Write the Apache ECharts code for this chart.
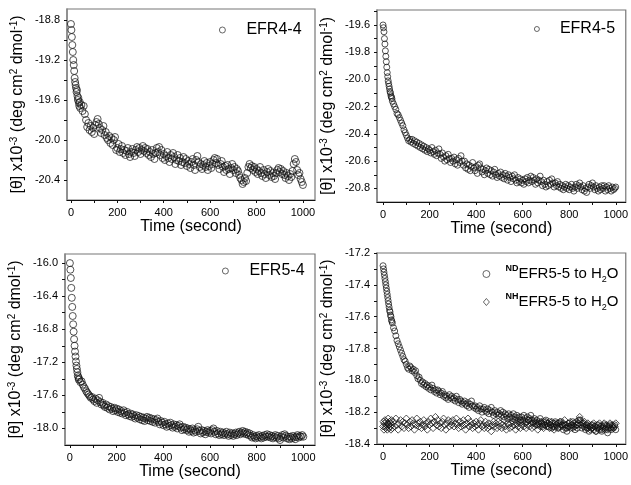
<!DOCTYPE html>
<html><head><meta charset="utf-8">
<script src="https://cdn.jsdelivr.net/npm/echarts@6/dist/echarts.min.js"></script>
<style>html,body{margin:0;padding:0;background:#fff}#c{width:631px;height:485px}</style>
</head><body><div id="c"></div>
<script>
// ---------------- DATA ----------------
const times = [
0,2,4,6,8,10,12,14,16,18,20,22,24,26,28,30,32,34,36,38,40,
45,50,55,60,65,70,75,80,85,90,
95,100,105,110,115,120,125,130,135,140,
145,150,155,160,165,170,175,180,185,190,
195,200,205,210,215,220,225,230,235,240,
245,250,255,260,265,270,275,280,285,290,
295,300,305,310,315,320,325,330,335,340,
345,350,355,360,365,370,375,380,385,390,
395,400,405,410,415,420,425,430,435,440,
445,450,455,460,465,470,475,480,485,490,
495,500,505,510,515,520,525,530,535,540,
545,550,555,560,565,570,575,580,585,590,
595,600,605,610,615,620,625,630,635,640,
645,650,655,660,665,670,675,680,685,690,
695,700,705,710,715,720,725,730,735,740,
745,750,755,760,765,770,775,780,785,790,
795,800,805,810,815,820,825,830,835,840,
845,850,855,860,865,870,875,880,885,890,
895,900,905,910,915,920,925,930,935,940,
945,950,955,960,965,970,975,980,985,990,
995,1000];

const efr44 = [
-18.84,-18.90,-18.97,-19.05,-19.12,-19.20,-19.25,-19.31,-19.38,-19.42,-19.45,-19.48,-19.52,-19.50,-19.56,-19.60,-19.58,-19.63,-19.66,-19.62,-19.68,
-19.65,-19.71,-19.66,-19.74,-19.80,-19.87,-19.83,-19.90,-19.86,-19.92,
-19.88,-19.94,-19.85,-19.82,-19.79,-19.84,-19.88,-19.93,-19.90,-19.86,
-19.95,-19.92,-19.98,-20.00,-19.96,-20.03,-19.98,-20.05,-20.00,-19.97,
-20.10,-20.08,-20.04,-20.12,-20.09,-20.06,-20.13,-20.10,-20.15,-20.11,
-20.08,-20.14,-20.17,-20.12,-20.09,-20.13,-20.16,-20.10,-20.07,-20.12,
-20.08,-20.14,-20.10,-20.06,-20.11,-20.08,-20.13,-20.09,-20.15,-20.12,
-20.17,-20.10,-20.14,-20.19,-20.13,-20.08,-20.12,-20.07,-20.15,-20.10,
-20.18,-20.14,-20.20,-20.16,-20.12,-20.18,-20.22,-20.15,-20.19,-20.13,
-20.17,-20.24,-20.20,-20.15,-20.21,-20.18,-20.25,-20.22,-20.17,-20.23,
-20.19,-20.26,-20.21,-20.24,-20.28,-20.22,-20.19,-20.25,-20.30,-20.20,
-20.16,-20.22,-20.27,-20.24,-20.29,-20.25,-20.21,-20.27,-20.23,-20.30,
-20.26,-20.22,-20.28,-20.24,-20.20,-20.18,-20.23,-20.19,-20.25,-20.29,
-20.24,-20.21,-20.27,-20.32,-20.26,-20.30,-20.25,-20.29,-20.34,-20.28,
-20.24,-20.30,-20.27,-20.33,-20.29,-20.31,-20.35,-20.38,-20.40,-20.44,
-20.42,-20.38,-20.41,-20.33,-20.27,-20.24,-20.28,-20.26,-20.30,-20.27,
-20.32,-20.29,-20.34,-20.31,-20.27,-20.33,-20.36,-20.30,-20.34,-20.38,
-20.32,-20.29,-20.35,-20.31,-20.37,-20.33,-20.36,-20.39,-20.33,-20.30,
-20.28,-20.32,-20.29,-20.34,-20.31,-20.35,-20.38,-20.33,-20.36,-20.40,
-20.34,-20.37,-20.31,-20.24,-20.19,-20.22,-20.30,-20.35,-20.33,-20.39,
-20.42,-20.45];

const efr45 = [
-19.60,-19.62,-19.65,-19.70,-19.74,-19.79,-19.83,-19.87,-19.91,-19.95,-19.98,-20.01,-20.03,-20.05,-20.07,-20.09,-20.10,-20.12,-20.13,-20.14,-20.16,
-20.18,-20.20,-20.22,-20.25,-20.26,-20.28,-20.30,-20.32,-20.34,-20.37,
-20.39,-20.41,-20.43,-20.45,-20.44,-20.46,-20.44,-20.47,-20.45,-20.48,
-20.46,-20.49,-20.47,-20.50,-20.48,-20.51,-20.49,-20.52,-20.50,-20.53,
-20.51,-20.52,-20.54,-20.50,-20.53,-20.55,-20.52,-20.56,-20.54,-20.51,
-20.55,-20.58,-20.54,-20.57,-20.60,-20.56,-20.59,-20.55,-20.58,-20.61,
-20.58,-20.60,-20.57,-20.62,-20.59,-20.63,-20.58,-20.61,-20.56,-20.60,
-20.63,-20.60,-20.65,-20.62,-20.66,-20.63,-20.67,-20.64,-20.61,-20.65,
-20.67,-20.64,-20.69,-20.63,-20.62,-20.65,-20.68,-20.66,-20.70,-20.67,
-20.65,-20.69,-20.66,-20.70,-20.67,-20.71,-20.68,-20.66,-20.70,-20.72,
-20.69,-20.71,-20.68,-20.72,-20.70,-20.73,-20.69,-20.71,-20.74,-20.70,
-20.72,-20.75,-20.71,-20.73,-20.70,-20.74,-20.76,-20.72,-20.75,-20.73,
-20.76,-20.74,-20.77,-20.73,-20.75,-20.72,-20.76,-20.74,-20.71,-20.75,
-20.72,-20.74,-20.77,-20.73,-20.76,-20.74,-20.71,-20.75,-20.78,-20.74,
-20.77,-20.79,-20.75,-20.78,-20.74,-20.77,-20.73,-20.76,-20.79,-20.76,
-20.78,-20.75,-20.79,-20.77,-20.80,-20.78,-20.81,-20.79,-20.77,-20.80,
-20.78,-20.81,-20.79,-20.77,-20.80,-20.82,-20.79,-20.77,-20.80,-20.78,
-20.76,-20.79,-20.81,-20.78,-20.82,-20.80,-20.83,-20.79,-20.77,-20.80,
-20.78,-20.76,-20.79,-20.81,-20.78,-20.80,-20.82,-20.79,-20.81,-20.78,
-20.80,-20.78,-20.82,-20.79,-20.81,-20.78,-20.80,-20.82,-20.79,-20.81,
-20.80,-20.79];

const efr54 = [
-16.00,-16.08,-16.18,-16.30,-16.42,-16.53,-16.64,-16.74,-16.83,-16.92,-17.00,-17.07,-17.13,-17.19,-17.24,-17.28,-17.32,-17.36,-17.38,-17.41,-17.40,
-17.44,-17.43,-17.47,-17.50,-17.52,-17.55,-17.57,-17.59,-17.61,-17.63,
-17.62,-17.65,-17.67,-17.64,-17.69,-17.66,-17.63,-17.68,-17.71,-17.69,
-17.72,-17.74,-17.71,-17.75,-17.73,-17.77,-17.74,-17.76,-17.79,-17.75,
-17.78,-17.76,-17.80,-17.77,-17.81,-17.79,-17.82,-17.78,-17.81,-17.84,
-17.80,-17.83,-17.85,-17.82,-17.86,-17.83,-17.85,-17.88,-17.84,-17.87,
-17.85,-17.89,-17.86,-17.90,-17.87,-17.91,-17.88,-17.86,-17.90,-17.87,
-17.91,-17.88,-17.92,-17.89,-17.93,-17.90,-17.88,-17.92,-17.95,-17.91,
-17.93,-17.96,-17.92,-17.95,-17.98,-17.94,-17.97,-17.93,-17.96,-17.99,
-17.95,-17.98,-17.96,-18.00,-17.97,-17.95,-17.99,-18.02,-17.98,-18.01,
-17.99,-18.02,-18.00,-18.04,-18.01,-18.03,-18.00,-18.05,-18.02,-18.04,
-18.01,-17.98,-18.03,-18.06,-18.02,-18.05,-18.03,-18.07,-18.04,-18.02,
-18.05,-18.03,-18.06,-18.02,-18.00,-18.04,-18.07,-18.03,-18.06,-18.08,
-18.04,-18.07,-18.05,-18.08,-18.06,-18.04,-18.07,-18.09,-18.05,-18.08,
-18.06,-18.09,-18.07,-18.05,-18.08,-18.06,-18.04,-18.07,-18.05,-18.03,
-18.06,-18.04,-18.07,-18.05,-18.08,-18.06,-18.09,-18.11,-18.08,-18.10,
-18.12,-18.09,-18.11,-18.08,-18.10,-18.12,-18.09,-18.11,-18.08,-18.10,
-18.07,-18.10,-18.08,-18.11,-18.09,-18.12,-18.10,-18.08,-18.11,-18.09,
-18.12,-18.14,-18.10,-18.08,-18.11,-18.07,-18.09,-18.12,-18.10,-18.13,
-18.10,-18.12,-18.09,-18.11,-18.13,-18.10,-18.08,-18.11,-18.09,-18.10,
-18.08,-18.10];

const efr55ND = [
-17.28,-17.30,-17.32,-17.34,-17.36,-17.38,-17.40,-17.42,-17.44,-17.46,-17.48,-17.50,-17.52,-17.54,-17.56,-17.57,-17.59,-17.60,-17.62,-17.63,-17.64,
-17.67,-17.69,-17.72,-17.75,-17.77,-17.79,-17.81,-17.83,-17.85,-17.87,
-17.88,-17.90,-17.92,-17.93,-17.91,-17.92,-17.94,-17.93,-17.95,-17.94,
-17.97,-17.99,-17.98,-18.00,-18.02,-18.01,-18.03,-18.02,-18.04,-18.03,
-18.05,-18.04,-18.06,-18.03,-18.05,-18.07,-18.06,-18.08,-18.06,-18.07,
-18.09,-18.08,-18.07,-18.10,-18.09,-18.11,-18.10,-18.12,-18.09,-18.11,
-18.10,-18.12,-18.11,-18.13,-18.10,-18.12,-18.14,-18.12,-18.13,-18.15,
-18.14,-18.13,-18.15,-18.16,-18.14,-18.17,-18.15,-18.13,-18.16,-18.17,
-18.16,-18.18,-18.17,-18.19,-18.16,-18.18,-18.20,-18.18,-18.17,-18.19,
-18.20,-18.18,-18.21,-18.19,-18.17,-18.20,-18.22,-18.19,-18.21,-18.20,
-18.22,-18.21,-18.19,-18.22,-18.20,-18.23,-18.21,-18.22,-18.24,-18.21,
-18.23,-18.22,-18.24,-18.21,-18.23,-18.25,-18.22,-18.24,-18.23,-18.25,
-18.23,-18.25,-18.22,-18.24,-18.26,-18.23,-18.25,-18.24,-18.22,-18.25,
-18.26,-18.24,-18.27,-18.25,-18.28,-18.26,-18.24,-18.27,-18.29,-18.26,
-18.28,-18.25,-18.27,-18.29,-18.26,-18.28,-18.30,-18.27,-18.29,-18.26,
-18.28,-18.30,-18.27,-18.29,-18.26,-18.28,-18.31,-18.28,-18.30,-18.32,
-18.29,-18.27,-18.30,-18.28,-18.26,-18.29,-18.31,-18.28,-18.30,-18.27,
-18.25,-18.28,-18.30,-18.27,-18.29,-18.31,-18.28,-18.30,-18.32,-18.29,
-18.30,-18.28,-18.31,-18.29,-18.32,-18.30,-18.28,-18.31,-18.29,-18.32,
-18.30,-18.28,-18.31,-18.29,-18.33,-18.30,-18.28,-18.31,-18.29,-18.30,
-18.28,-18.31];

const efr55NH = [
-18.29,-18.26,-18.31,-18.27,-18.25,-18.29,-18.30,-18.26,-18.28,-18.31,-18.27,-18.24,-18.28,-18.30,-18.26,-18.29,-18.27,-18.31,-18.25,-18.28,-18.30,
-18.26,-18.29,-18.24,-18.28,-18.31,-18.27,-18.25,-18.29,-18.26,-18.30,
-18.27,-18.24,-18.28,-18.30,-18.26,-18.29,-18.25,-18.27,-18.31,-18.28,
-18.24,-18.27,-18.29,-18.26,-18.30,-18.28,-18.25,-18.29,-18.27,-18.31,
-18.26,-18.28,-18.24,-18.27,-18.30,-18.26,-18.23,-18.28,-18.25,-18.29,
-18.27,-18.30,-18.26,-18.24,-18.28,-18.31,-18.27,-18.25,-18.29,-18.26,
-18.28,-18.25,-18.29,-18.27,-18.24,-18.28,-18.30,-18.26,-18.29,-18.27,
-18.25,-18.28,-18.31,-18.27,-18.24,-18.29,-18.26,-18.28,-18.30,-18.27,
-18.29,-18.26,-18.28,-18.31,-18.27,-18.25,-18.29,-18.28,-18.30,-18.26,
-18.28,-18.30,-18.27,-18.29,-18.32,-18.28,-18.26,-18.29,-18.27,-18.30,
-18.26,-18.29,-18.27,-18.30,-18.28,-18.25,-18.29,-18.31,-18.27,-18.28,
-18.30,-18.27,-18.29,-18.26,-18.28,-18.31,-18.27,-18.29,-18.26,-18.30,
-18.28,-18.26,-18.29,-18.27,-18.30,-18.28,-18.25,-18.29,-18.27,-18.30,
-18.27,-18.29,-18.26,-18.28,-18.31,-18.27,-18.29,-18.26,-18.28,-18.30,
-18.28,-18.26,-18.29,-18.27,-18.30,-18.28,-18.26,-18.29,-18.31,-18.27,
-18.29,-18.27,-18.30,-18.26,-18.28,-18.29,-18.27,-18.25,-18.28,-18.30,
-18.27,-18.29,-18.26,-18.28,-18.30,-18.27,-18.29,-18.26,-18.28,-18.25,
-18.23,-18.25,-18.27,-18.29,-18.26,-18.28,-18.30,-18.27,-18.29,-18.31,
-18.28,-18.30,-18.27,-18.29,-18.32,-18.28,-18.30,-18.27,-18.29,-18.31,
-18.29,-18.27,-18.30,-18.28,-18.31,-18.29,-18.27,-18.30,-18.28,-18.30,
-18.29,-18.27];

const legendNames = ['EFR4-4', 'EFR4-5', 'EFR5-4', 'NDEFR5-5 to H2O', 'NHEFR5-5 to H2O'];
const xTicks = [0,100,200,300,400,500,600,700,800,900,1000];
const xLabels = [0,200,400,600,800,1000];
const yTicks1 = [-20.4,-20.2,-20.0,-19.8,-19.6,-19.4,-19.2,-19.0,-18.8];
const yLabels1 = [-20.4,-20.0,-19.6,-19.2,-18.8];
const yTicks2 = [-20.8,-20.7,-20.6,-20.5,-20.4,-20.3,-20.2,-20.1,-20.0,-19.9,-19.8,-19.7,-19.6,-19.5];
const yLabels2 = [-20.8,-20.6,-20.4,-20.2,-20.0,-19.8,-19.6];
const yTicks3 = [-18.0,-17.8,-17.6,-17.4,-17.2,-17.0,-16.8,-16.6,-16.4,-16.2,-16.0];
const yLabels3 = [-18.0,-17.6,-17.2,-16.8,-16.4,-16.0];
const yTicks4 = [-18.4,-18.3,-18.2,-18.1,-18.0,-17.9,-17.8,-17.7,-17.6,-17.5,-17.4,-17.3,-17.2];
const yLabels4 = [-18.4,-18.2,-18.0,-17.8,-17.6,-17.4,-17.2];

[efr44, efr45, efr54, efr55ND, efr55NH].forEach((a, i) => {
  if (a.length !== times.length) throw new Error('length mismatch in series ' + i + ': ' + a.length + ' vs ' + times.length);
});

// ---------------- CHART ----------------
const FONT = '"Liberation Sans", Arial, sans-serif';
const pairs = vals => times.map((t, i) => [t, vals[i]]);

const grids = [
  {left: 67, top: 9, width: 248, height: 191},
  {left: 377, top: 10, width: 250, height: 192},
  {left: 65, top: 254, width: 250, height: 191},
  {left: 377, top: 253, width: 250, height: 191}
];
const xRanges = [[-17, 1052], [-26, 1043], [-21, 1050], [-26, 1043]];
const yRanges = [[-20.6, -18.69], [-20.9, -19.49], [-18.2, -15.89], [-18.4, -17.2]];
const yTickSets = [yTicks1, yTicks2, yTicks3, yTicks4];
const yLabelSets = [yLabels1, yLabels2, yLabels3, yLabels4];

const xAxes = grids.map((g, i) => ({
  type: 'value', gridIndex: i, min: xRanges[i][0], max: xRanges[i][1],
  splitLine: {show: false},
  axisLine: {show: true, onZero: false, lineStyle: {color: '#111', width: 1}},
  axisTick: {show: true, length: 3, customValues: xTicks, lineStyle: {color: '#111'}},
  axisLabel: {customValues: xLabels, fontSize: 11, color: '#000', fontFamily: FONT, margin: 7,
    formatter: v => String(Math.round(v))},
  name: 'Time (second)', nameLocation: 'middle', nameGap: 15,
  nameTextStyle: {fontSize: 16, color: '#000', fontFamily: FONT}
}));

const yAxes = grids.map((g, i) => ({
  type: 'value', gridIndex: i, min: yRanges[i][0], max: yRanges[i][1],
  splitLine: {show: false},
  axisLine: {show: true, onZero: false, lineStyle: {color: '#888', width: 1.5}},
  axisTick: {show: true, length: 3, customValues: yTickSets[i], lineStyle: {color: '#111'}},
  axisLabel: {customValues: yLabelSets[i], fontSize: 11, color: '#000', fontFamily: FONT, margin: 7,
    formatter: v => v.toFixed(1)},
  name: '[θ] x10{sup|-3} (deg cm{sup|2} dmol{sup|-1})',
  nameLocation: 'middle', nameRotate: 90, nameGap: 40,
  nameTextStyle: {fontSize: 16, color: '#000', fontFamily: FONT, lineHeight: 18,
    rich: {sup: {fontSize: 10, fontFamily: FONT, color: '#000', verticalAlign: 'top', lineHeight: 10}}}
}));

const markStyle = {color: 'rgba(0,0,0,0)', borderColor: '#111', borderWidth: 0.9};

const series = [
  {name: legendNames[0], type: 'scatter', xAxisIndex: 0, yAxisIndex: 0, data: pairs(efr44), symbol: 'circle', symbolSize: 7, itemStyle: markStyle},
  {name: legendNames[1], type: 'scatter', xAxisIndex: 1, yAxisIndex: 1, data: pairs(efr45), symbol: 'circle', symbolSize: 6, itemStyle: markStyle},
  {name: legendNames[2], type: 'scatter', xAxisIndex: 2, yAxisIndex: 2, data: pairs(efr54), symbol: 'circle', symbolSize: 7, itemStyle: markStyle},
  {name: legendNames[3], type: 'scatter', xAxisIndex: 3, yAxisIndex: 3, data: pairs(efr55ND), symbol: 'circle', symbolSize: 6, itemStyle: markStyle},
  {name: legendNames[4], type: 'scatter', xAxisIndex: 3, yAxisIndex: 3, data: pairs(efr55NH), symbol: 'diamond', symbolSize: 7, itemStyle: markStyle}
];

// diamond legend icon padded with invisible move-to points so it is not stretched across the icon box
const diamondIcon = 'path://M0,0M28,7M14,0L17,3.5L14,7L11,3.5Z';

const legTxt = {fontSize: 16, color: '#000', fontFamily: FONT};
const legIcon = {borderWidth: 0.8};
const legends = [
  {data: [legendNames[0]], left: 219, top: 22, itemWidth: 38, itemHeight: 6, padding: 0, textStyle: legTxt, itemStyle: legIcon},
  {data: [legendNames[1]], left: 534, top: 21, itemWidth: 36, itemHeight: 5, padding: 0, textStyle: legTxt, itemStyle: legIcon},
  {data: [legendNames[2]], left: 222, top: 263, itemWidth: 38, itemHeight: 6, padding: 0, textStyle: legTxt, itemStyle: legIcon},
  {data: [{name: legendNames[3]}, {name: legendNames[4], icon: diamondIcon}], left: 472, top: 264, orient: 'vertical', itemGap: 8,
   itemWidth: 28, itemHeight: 7, padding: 0, itemStyle: legIcon,
   formatter: n => n === legendNames[3] ? '{sup|ND}EFR5-5 to H{sub|2}O' : '{sup|NH}EFR5-5 to H{sub|2}O',
   textStyle: {fontSize: 15, color: '#000', fontFamily: FONT, lineHeight: 20,
     rich: {sup: {fontSize: 9, fontWeight: 'bold', fontFamily: FONT, color: '#000', verticalAlign: 'top', lineHeight: 10},
            sub: {fontSize: 9, fontFamily: FONT, color: '#000', verticalAlign: 'bottom', lineHeight: 10}}}}
];

const chart = echarts.init(document.getElementById('c'), null, {renderer: 'canvas'});
chart.setOption({
  animation: false,
  backgroundColor: '#fff',
  grid: grids.map(g => Object.assign({show: true, borderColor: '#777', borderWidth: 1.2, backgroundColor: 'transparent'}, g)),
  xAxis: xAxes,
  yAxis: yAxes,
  legend: legends,
  series: series
});
</script>
</body></html>
